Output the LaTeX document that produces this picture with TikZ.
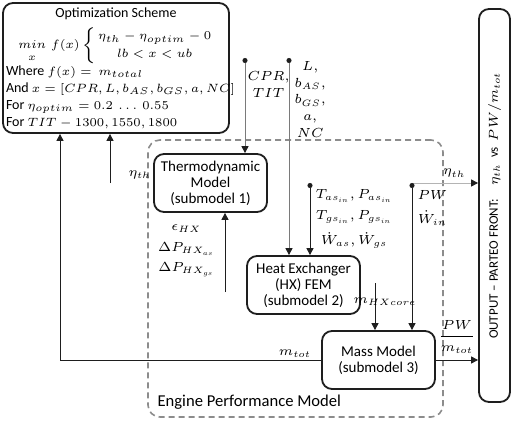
\RequirePackage{fix-cm}
\documentclass[tikz,border=0pt]{standalone}
\usepackage{fontspec}
\setmainfont{Carlito}
\usepackage{tikz}
\usetikzlibrary{arrows.meta, positioning, calc}
\definecolor{lnblack}{HTML}{1E1E1E}
\definecolor{lngrey}{HTML}{7A7A7A}
\definecolor{lnlight}{HTML}{B4B4B4}
\definecolor{dashgrey}{HTML}{8C8C8C}
\newcommand{\optmath}[1]{{\fontsize{6}{8}\selectfont$#1$}}
\newcommand{\optline}[2][l]{\makebox[110pt][#1]{#2}}
\tikzset{
  model/.style={rectangle, rounded corners=5pt, draw=lnblack, line width=0.9pt,
                minimum width=56.5pt, minimum height=29pt, align=center, inner sep=1pt,
                font=\fontsize{7.5}{8}\selectfont},
  scheme/.style={model, minimum width=113pt, minimum height=65pt, align=left,
                 inner xsep=1.5pt, font=\fontsize{7}{8}\selectfont},
  outbox/.style={model, rotate=90, minimum width=196.5pt, minimum height=15.5pt,
                 font=\fontsize{6.5}{7}\selectfont},
  engbox/.style={rectangle, rounded corners=6pt, draw=dashgrey, line width=0.8pt,
                 dash pattern=on 3pt off 2pt, minimum width=147.5pt, minimum height=138.5pt},
  englbl/.style={inner sep=0pt, font=\fontsize{8.3}{9}\selectfont},
  tag/.style={inner sep=1pt, align=center, font=\fontsize{6.6}{7.8}\selectfont},
  flow/.style={-{Triangle[length=3.5pt, width=3.5pt]}, draw=lnblack, line width=0.5pt},
  feed/.style={{Circle[length=2.5pt]}-{Triangle[length=3.5pt, width=3.5pt]}, draw=lnblack, line width=0.5pt},
  greyfeed/.style={{Circle[length=2.5pt, color=lnblack]}-{Triangle[length=3.5pt, width=3.5pt, color=lnblack]},
                   draw=lngrey, line width=0.5pt},
  lightflow/.style={-{Triangle[length=3.5pt, width=3.5pt, color=lnblack]}, draw=lnlight, line width=0.5pt}
}

\begin{document}
\begin{tikzpicture}[x=0.5pt, y=-0.5pt]
  \useasboundingbox (0,0) rectangle (515,423);

  % engine frame behind the submodels
  \node[engbox] (eng) at (295.5,278.5) {};
  \node[englbl, above right=4pt and 5pt of eng.south west] (englabel) {Engine Performance Model};

  \node[scheme] (opt) at (116,68) {\optline[c]{Optimization Scheme}\\[3pt]
    \optline[c]{\optmath{\displaystyle \mathop{min}\limits_{x}\, f(x)\left\{\begin{array}{@{\,}c@{}}\eta_{th}-\eta_{optim}-0\\[1pt] lb<x<ub\end{array}\right.}}\\
    \optline{Where \optmath{f(x)=\ m_{total}}}\\[0.5pt]
    \optline{And \optmath{x=[CPR,L,b_{AS},b_{GS},a,NC]}}\\[0.5pt]
    \optline{For \optmath{\eta_{optim}=0.2\ \dots\ 0.55}}\\[0.5pt]
    \optline{For \optmath{TIT-1300,1550,1800}}};
  \node[model] (thermo) at (210.5,183) {Thermodynamic\\Model\\(submodel 1)};
  \node[model] (hx) at (303.5,285) {Heat Exchanger\\(HX) FEM\\(submodel 2)};
  \node[model] (mass) at (378.5,360) {Mass Model\\(submodel 3)};
  \node[outbox] (outb) at (494.5,205.5) {OUTPUT -- PARTEO FRONT:\quad $\eta_{th}$\ \ vs\ \ $PW/m_{tot}$};

  \coordinate (cprin) at (245,58);
  \coordinate (lin) at (289,58);
  \coordinate (tin) at (310,183);
  \coordinate (pwin) at (412,183);
  \coordinate (hxout) at (375,283);
  \coordinate (dpin) at (225,292);
  \coordinate (etaup) at (110,183);
  \coordinate (mcorner) at (60,360);

  % inputs
  \draw[greyfeed] (cprin) -- node[tag, right, pos=0.28]{$CPR,$\\[0.5pt]$TIT$} (cprin |- thermo.north);
  \draw[greyfeed] (lin) -- node[tag, right, pos=0.21, xshift=1.5pt]{$L,$\\[0.5pt]$b_{AS},$\\[0.5pt]$b_{GS},$\\[0.5pt]$a,$\\[0.5pt]$NC$} (lin |- hx.north);
  \draw[feed] (tin) -- node[tag, right, xshift=1.5pt]{$T_{as_{in}}, P_{as_{in}}$\\[2.5pt]$T_{gs_{in}}, P_{gs_{in}}$\\[3.5pt]$\dot{W}_{as}, \dot{W}_{gs}$} (tin |- hx.north);
  \draw[lightflow] (pwin) -- node[tag, above, pos=0.64, yshift=1.5pt]{$\eta_{th}$} (pwin -| outb.north);
  \draw[feed] (pwin) -- node[tag, right, pos=0.17, xshift=1.5pt]{$PW$\\[4pt]$\dot{W}_{in}$} (pwin |- mass.north);

  % between submodels
  \draw[flow] (hxout) -- node[tag, pos=0.4, xshift=5pt]{$m_{HXcore}$} (hxout |- mass.north);
  \draw[flow] (dpin) -- node[tag, left, pos=0.52, xshift=-4pt]{$\epsilon_{HX}$\\[2.5pt]$\Delta P_{HX_{as}}$\\[2.5pt]$\Delta P_{HX_{gs}}$} (dpin |- thermo.south);

  % back to the optimizer and out
  \draw[flow] (etaup) -- node[tag, right, pos=0.16, xshift=8pt]{$\eta_{th}$} (etaup |- opt.south);
  \draw[flow] (mass.west) -- node[tag, above, pos=0.1]{$m_{tot}$} (mcorner) -- (mcorner |- opt.south);
  \draw[flow] (mass.east) -- node[tag, above, yshift=2pt]{$\displaystyle\frac{PW}{m_{tot}}$} (mass.east -| outb.north);
\end{tikzpicture}
\end{document}
